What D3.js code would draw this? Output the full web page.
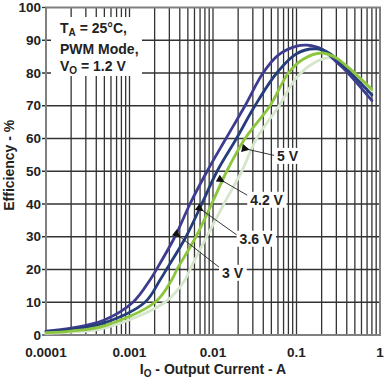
<!DOCTYPE html>
<html>
<head>
<meta charset="utf-8">
<script src="https://cdn.jsdelivr.net/npm/d3@7"></script>
<style>
  body { margin: 0; background: #fff; }
  text { font-family: "Liberation Sans", Arial, sans-serif; font-weight: bold; fill: #222; }
</style>
</head>
<body>
<div id="chart"></div>
<script>
// efficiency (%) vs output current (A)
const series3V = [
  [1e-4, 1.2], [2e-4, 2.1], [5e-4, 4.6], [0.0011, 10], [0.00176, 16.8], [0.0021, 20],
  [0.0035, 30], [0.0053, 40], [0.0085, 50], [0.0143, 60], [0.0242, 70], [0.0397, 80],
  [0.06, 85.4], [0.1, 88.2], [0.135, 88.5], [0.2, 87.3], [0.3, 83.4], [0.4, 80.4], [0.8, 71.6]
];
const series36V = [
  [1e-4, 1.0], [2e-4, 1.7], [5e-4, 3.7], [0.00153, 10], [0.00232, 16.8], [0.00277, 20],
  [0.00475, 30], [0.00733, 40], [0.0112, 50], [0.0191, 60], [0.0318, 70], [0.058, 80],
  [0.1, 85.9], [0.17, 87.4], [0.25, 86.0], [0.3, 84.2], [0.4, 81.2], [0.8, 73.3]
];
const series42V = [
  [1e-4, 0.7], [2e-4, 1.2], [5e-4, 2.8], [0.00202, 10], [0.0032, 16.8], [0.0037, 20],
  [0.00625, 30], [0.00964, 40], [0.0146, 50], [0.0242, 60], [0.0482, 70], [0.08, 80],
  [0.12, 84.2], [0.2, 86.1], [0.3, 84.6], [0.4, 82.1], [0.8, 75]
];
const series5V = [
  [1e-4, 0.5], [2e-4, 0.9], [5e-4, 2.1], [0.00266, 10], [0.00462, 16.8], [0.0053, 20],
  [0.0084, 30], [0.0135, 40], [0.0221, 50], [0.0333, 60], [0.062, 70], [0.1, 78.6],
  [0.16, 83], [0.25, 84.6], [0.4, 82], [0.8, 74.5]
];

const xTicks = [0.0001, 0.001, 0.01, 0.1, 1];
const xTickLabels = ['0.0001', '0.001', '0.01', '0.1', '1'];
const yTicks = [0, 10, 20, 30, 40, 50, 60, 70, 80, 90, 100];

// voltage labels: [text, arrow tip (I, E), line end (I, E), label centre (I, E)]
const labels = [
  ['5 V',   [0.027, 56.6],   [0.0568, 54.7], [0.078, 54.7]],
  ['4.2 V', [0.01355, 46.8], [0.0277, 42.2], [0.0438, 41.3]],
  ['3.6 V', [0.00759, 37.9], [0.0199, 30.3], [0.0327, 29.4]],
  ['3 V',   [0.00403, 30.0], [0.01213, 20.5], [0.01713, 19.0]]
];

const width = 390, height = 384;
const margin = { top: 7.5, right: 10, bottom: 49, left: 46 };

const svg = d3.select('#chart').append('svg')
  .attr('width', width)
  .attr('height', height);

const x = d3.scaleLog().domain([1e-4, 1]).range([margin.left, width - margin.right]);
const y = d3.scaleLinear().domain([0, 100]).range([height - margin.bottom, margin.top]);

// grid
const minor = [];
for (let p = -4; p < 0; p++) {
  for (let k = 1; k < 10; k++) minor.push(k * Math.pow(10, p));
}
const grid = svg.append('g').attr('class', 'grid')
  .attr('stroke', '#333')
  .attr('stroke-width', 1.3);

grid.selectAll('line.v').data(minor.slice(1)).enter().append('line')
  .attr('class', 'v')
  .attr('x1', d => x(d)).attr('x2', d => x(d))
  .attr('y1', y(100)).attr('y2', y(0));

grid.selectAll('line.h').data(yTicks.slice(1, -1)).enter().append('line')
  .attr('class', 'h')
  .attr('x1', x(1e-4) - 4).attr('x2', x(1))
  .attr('y1', d => y(d)).attr('y2', d => y(d));

grid.selectAll('line.t').data([0, 100]).enter().append('line')
  .attr('class', 't')
  .attr('x1', x(1e-4) - 4).attr('x2', x(1e-4))
  .attr('y1', d => y(d)).attr('y2', d => y(d));

// frame
svg.append('rect')
  .attr('x', x(1e-4)).attr('y', y(100))
  .attr('width', x(1) - x(1e-4)).attr('height', y(0) - y(100))
  .attr('fill', 'none')
  .attr('stroke', '#808080')
  .attr('stroke-width', 2);

// conditions box
const note = svg.append('g');
note.append('rect')
  .attr('x', 51).attr('y', 17).attr('width', 91).attr('height', 59)
  .attr('fill', '#fff');
const noteText = note.append('text')
  .attr('x', 60)
  .attr('font-size', 14);
const l1 = noteText.append('tspan').attr('x', 60).attr('y', 33);
l1.append('tspan').text('T');
l1.append('tspan').attr('font-size', 10).attr('dy', 3).text('A');
l1.append('tspan').attr('dy', -3).text(' = 25°C,');
noteText.append('tspan').attr('x', 60).attr('y', 54).text('PWM Mode,');
const l3 = noteText.append('tspan').attr('x', 60).attr('y', 71);
l3.append('tspan').text('V');
l3.append('tspan').attr('font-size', 10).attr('dy', 3).text('O');
l3.append('tspan').attr('dy', -3).text(' = 1.2 V');

// curves
const line = d3.line()
  .x(d => x(d[0]))
  .y(d => y(d[1]))
  .curve(d3.curveCatmullRom.alpha(0.5));

const curves = [
  { data: series5V, color: '#d6e6cd' },
  { data: series3V, color: '#3e3c90' },
  { data: series36V, color: '#263d7c' },
  { data: series42V, color: '#8cc63f' }
];

svg.append('g').selectAll('path').data(curves).enter().append('path')
  .attr('d', d => line(d.data))
  .attr('fill', 'none')
  .attr('stroke', d => d.color)
  .attr('stroke-width', 2.8)
  .attr('stroke-linecap', 'round');

// arrows + labels
svg.append('defs').append('marker')
  .attr('id', 'arrow')
  .attr('markerUnits', 'userSpaceOnUse')
  .attr('viewBox', '0 0 10 10')
  .attr('refX', 1).attr('refY', 5)
  .attr('markerWidth', 10).attr('markerHeight', 8)
  .attr('orient', 'auto-start-reverse')
  .append('path')
    .attr('d', 'M0,5 L10,0 L10,10 Z')
    .attr('fill', '#111');

const ann = svg.append('g');
ann.selectAll('line').data(labels).enter().append('line')
  .attr('x1', d => x(d[1][0])).attr('y1', d => y(d[1][1]))
  .attr('x2', d => x(d[2][0])).attr('y2', d => y(d[2][1]))
  .attr('stroke', '#222')
  .attr('stroke-width', 0.9)
  .attr('marker-start', 'url(#arrow)');

const lab = ann.selectAll('g.lab').data(labels).enter().append('g')
  .attr('class', 'lab')
  .attr('transform', d => `translate(${x(d[3][0])},${y(d[3][1])})`);
lab.append('text')
  .attr('text-anchor', 'middle')
  .attr('dy', '0.36em')
  .attr('font-size', 14)
  .text(d => d[0]);
lab.each(function() {
  const g = d3.select(this);
  const b = g.select('text').node().getBBox();
  g.insert('rect', 'text')
    .attr('x', b.x - 3).attr('y', b.y)
    .attr('width', b.width + 6).attr('height', b.height)
    .attr('fill', '#fff');
});

// axes labels
svg.append('g').selectAll('text').data(yTicks).enter().append('text')
  .attr('x', x(1e-4) - 5)
  .attr('y', d => y(d))
  .attr('dy', '0.35em')
  .attr('text-anchor', 'end')
  .attr('font-size', 13.5)
  .text(d => d);

svg.append('g').selectAll('text').data(xTicks).enter().append('text')
  .attr('x', d => x(d))
  .attr('y', 356.5)
  .attr('text-anchor', 'middle')
  .attr('font-size', 13.5)
  .text((d, i) => xTickLabels[i]);

const xt = svg.append('text')
  .attr('x', (x(1e-4) + x(1)) / 2)
  .attr('y', 374)
  .attr('text-anchor', 'middle')
  .attr('font-size', 14);
xt.append('tspan').text('I');
xt.append('tspan').attr('font-size', 10).attr('dy', 3).text('O');
xt.append('tspan').attr('dy', -3).text(' - Output Current - A');

svg.append('text')
  .attr('transform', `translate(14,${(y(0) + y(100)) / 2 - 6}) rotate(-90)`)
  .attr('text-anchor', 'middle')
  .attr('font-size', 14)
  .text('Efficiency - %');
</script>
</body>
</html>
